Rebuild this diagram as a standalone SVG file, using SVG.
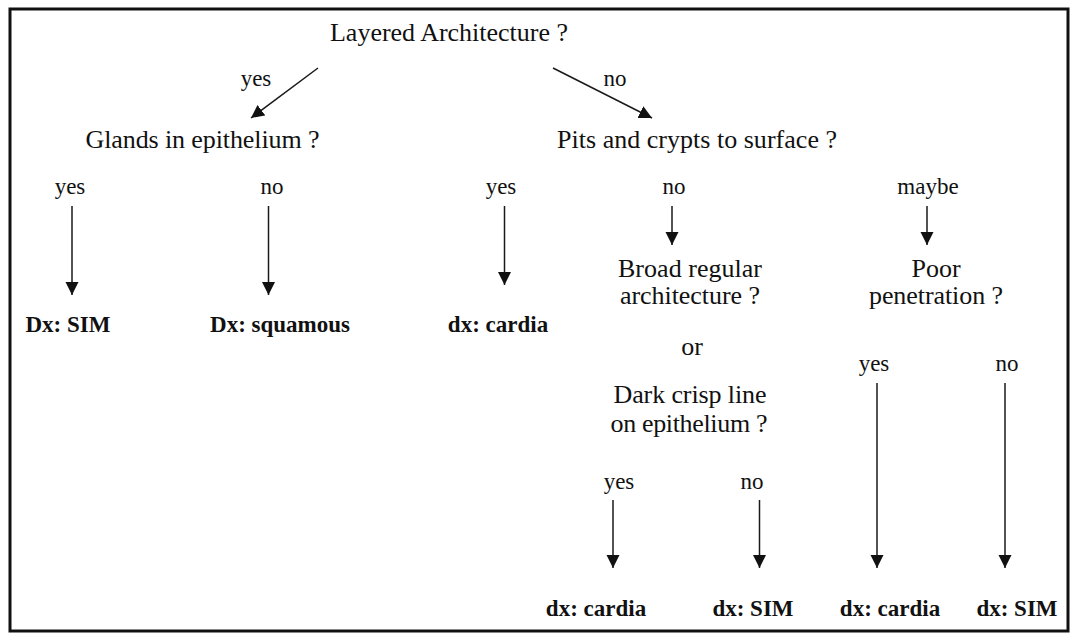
<svg xmlns="http://www.w3.org/2000/svg" width="1074" height="635" viewBox="0 0 1074 635">
<defs>
<style>
text{font-family:'Liberation Serif',Tinos,'Times New Roman',Times,'Noto Serif','DejaVu Serif',serif;fill:#111;text-anchor:middle}
.q{font-size:26px}
.l{font-size:23px}
.d{font-size:23px;font-weight:bold}
.c line{stroke:#1a1a1a;stroke-width:1.5;marker-end:url(#ah)}
</style>
<marker id="ah" markerUnits="userSpaceOnUse" markerWidth="14" markerHeight="14" refX="13" refY="6.5" orient="auto" viewBox="0 0 14 14">
<path d="M0,0 L13,6.5 L0,13 z" fill="#111"/>
</marker>
</defs>
<rect x="0" y="0" width="1074" height="635" fill="#fff"/>
<rect x="10" y="9" width="1058" height="622" fill="none" stroke="#111" stroke-width="3"/>
<g font-family="Liberation Serif, serif">
<g id="n-layered"><text class="q" x="449" y="41" textLength="238" lengthAdjust="spacing">Layered Architecture ?</text></g>
<g id="n-glands"><text class="q" x="202.5" y="148" textLength="234" lengthAdjust="spacing">Glands in epithelium ?</text></g>
<g id="n-pits"><text class="q" x="697" y="148" textLength="280" lengthAdjust="spacing">Pits and crypts to surface ?</text></g>
<g id="n-broad">
<text class="q" x="690" y="277" textLength="144" lengthAdjust="spacing">Broad regular</text>
<text class="q" x="690" y="304" textLength="140" lengthAdjust="spacing">architecture ?</text>
<text class="q" x="692" y="355">or</text>
<text class="q" x="690" y="403" textLength="153" lengthAdjust="spacing">Dark crisp line</text>
<text class="q" x="689" y="432" textLength="157" lengthAdjust="spacing">on epithelium ?</text>
</g>
<g id="n-poor">
<text class="q" x="936" y="277">Poor</text>
<text class="q" x="936" y="304" textLength="134" lengthAdjust="spacing">penetration ?</text>
</g>
<g id="n-dx-sim1"><text class="d" x="68" y="332">Dx: SIM</text></g>
<g id="n-dx-squamous"><text class="d" x="280" y="332">Dx: squamous</text></g>
<g id="n-dx-cardia1"><text class="d" x="498" y="332">dx: cardia</text></g>
<g id="n-dx-cardia2"><text class="d" x="596" y="616">dx: cardia</text></g>
<g id="n-dx-sim2"><text class="d" x="753" y="616">dx: SIM</text></g>
<g id="n-dx-cardia3"><text class="d" x="890" y="616">dx: cardia</text></g>
<g id="n-dx-sim3"><text class="d" x="1017" y="616">dx: SIM</text></g>
<g id="labels">
<text class="l" x="256" y="86">yes</text>
<text class="l" x="615" y="86">no</text>
<text class="l" x="70" y="194">yes</text>
<text class="l" x="272" y="194">no</text>
<text class="l" x="501" y="194">yes</text>
<text class="l" x="674" y="194">no</text>
<text class="l" x="928" y="194">maybe</text>
<text class="l" x="874" y="371">yes</text>
<text class="l" x="1007" y="371">no</text>
<text class="l" x="619" y="489">yes</text>
<text class="l" x="752" y="489">no</text>
</g>
</g>
<g id="connectors" class="c">
<line x1="318" y1="68" x2="251" y2="118"/>
<line x1="553" y1="68" x2="652" y2="118"/>
<line x1="72" y1="206" x2="72" y2="295"/>
<line x1="268.5" y1="206" x2="268.5" y2="295"/>
<line x1="504.5" y1="206" x2="504.5" y2="285"/>
<line x1="672" y1="206" x2="672" y2="245"/>
<line x1="927" y1="206" x2="927" y2="245"/>
<line x1="613" y1="500" x2="613" y2="568"/>
<line x1="759.5" y1="500" x2="759.5" y2="568"/>
<line x1="877" y1="383" x2="877" y2="568"/>
<line x1="1005" y1="383" x2="1005" y2="568"/>
</g>
</svg>
